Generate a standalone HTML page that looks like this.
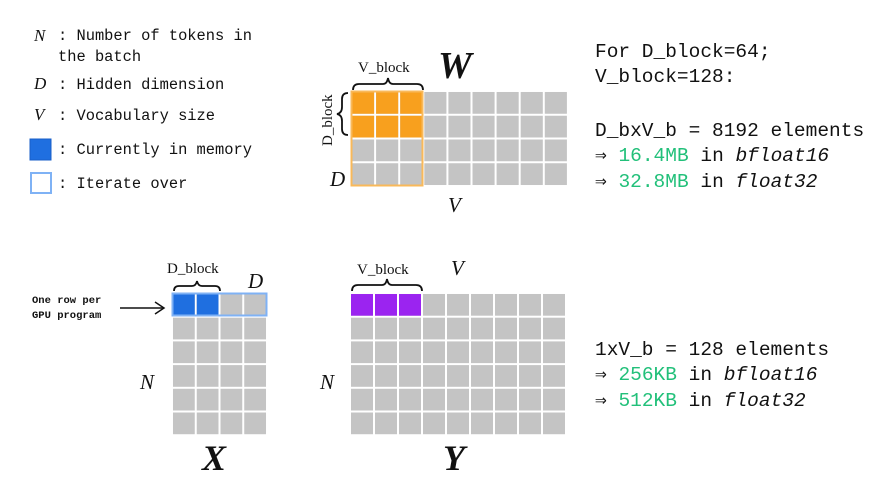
<!DOCTYPE html>
<html><head><meta charset="utf-8"><style>
html,body{margin:0;padding:0;background:#fff}
svg{display:block}
.m{font-family:"Liberation Mono",monospace;fill:#111}
.s{font-family:"Liberation Serif",serif;fill:#111}
.i{font-family:"Liberation Serif",serif;font-style:italic;fill:#111}
.g{fill:#22c07a}
</style></head><body>
<svg width="880" height="495" viewBox="0 0 880 495" xmlns="http://www.w3.org/2000/svg">
<defs>
<pattern id="pw" patternUnits="userSpaceOnUse" x="351" y="91" width="24.1" height="23.75"><rect x="1" y="1" width="22.1" height="21.75" fill="#c4c4c4"/></pattern>
<pattern id="pw2" patternUnits="userSpaceOnUse" x="351" y="91" width="24.1" height="23.75"><rect x="1" y="1" width="22.1" height="21.75" fill="#f8a01e"/></pattern>
<pattern id="px" patternUnits="userSpaceOnUse" x="172" y="293" width="23.75" height="23.7"><rect x="1" y="1" width="21.75" height="21.7" fill="#c4c4c4"/></pattern>
<pattern id="px2" patternUnits="userSpaceOnUse" x="172" y="293" width="23.75" height="23.7"><rect x="1" y="1" width="21.75" height="21.7" fill="#1f6fe0"/></pattern>
<pattern id="py" patternUnits="userSpaceOnUse" x="350" y="293" width="24" height="23.7"><rect x="1" y="1" width="22" height="21.7" fill="#c4c4c4"/></pattern>
<pattern id="py2" patternUnits="userSpaceOnUse" x="350" y="293" width="24" height="23.7"><rect x="1" y="1" width="22" height="21.7" fill="#9b24f0"/></pattern>
</defs>

<!-- legend -->
<text class="i" x="34" y="41" font-size="17">N</text>
<text class="m" x="58" y="40" font-size="15.4">: Number of tokens in</text>
<text class="m" x="58" y="61" font-size="15.4">  the batch</text>
<text class="i" x="34" y="89" font-size="17">D</text>
<text class="m" x="58" y="89" font-size="15.4">: Hidden dimension</text>
<text class="i" x="34" y="120" font-size="17">V</text>
<text class="m" x="58" y="120" font-size="15.4">: Vocabulary size</text>
<rect x="30" y="139" width="21" height="21" fill="#1f6fe0" stroke="#1a5fc8" stroke-width="1"/>
<text class="m" x="58" y="154" font-size="15.4">: Currently in memory</text>
<rect x="31" y="173" width="20" height="20" fill="#fff" stroke="#7fb2f5" stroke-width="2"/>
<text class="m" x="58" y="188" font-size="15.4">: Iterate over</text>

<!-- W -->
<rect x="351" y="91" width="217" height="95" fill="url(#pw)"/>
<rect x="351" y="91" width="72.3" height="47.5" fill="url(#pw2)"/>
<rect x="351.5" y="91.5" width="71" height="94" fill="none" stroke="#f9b95a" stroke-width="2"/>
<text class="s" x="358" y="72" font-size="15">V_block</text>
<path d="M353 90 q0 -6 6 -6 h24 q4 0 5 -6 q1 6 5 6 h24 q6 0 6 6" fill="none" stroke="#111" stroke-width="1.8"/>
<text class="i" x="438" y="78" font-size="38" font-weight="bold">W</text>
<text class="s" font-size="15" transform="translate(332,146) rotate(-90)">D_block</text>
<path d="M348 93 q-6 0 -6 6 v8 q0 6 -5 7 q5 1 5 7 v8 q0 6 6 6" fill="none" stroke="#111" stroke-width="1.8"/>
<text class="i" x="330" y="186" font-size="21">D</text>
<text class="i" x="448" y="212" font-size="21">V</text>

<!-- right text -->
<text class="m" x="595" y="57" font-size="19.5">For D_block=64;</text>
<text class="m" x="595" y="82" font-size="19.5">V_block=128:</text>
<text class="m" x="595" y="136" font-size="19.5">D_bxV_b = 8192 elements</text>
<text class="m" x="595" y="161" font-size="19.5">⇒ <tspan class="g">16.4MB</tspan> in <tspan font-style="italic">bfloat16</tspan></text>
<text class="m" x="595" y="187" font-size="19.5">⇒ <tspan class="g">32.8MB</tspan> in <tspan font-style="italic">float32</tspan></text>

<text class="m" x="595" y="355" font-size="19.5">1xV_b = 128 elements</text>
<text class="m" x="595" y="380" font-size="19.5">⇒ <tspan class="g">256KB</tspan> in <tspan font-style="italic">bfloat16</tspan></text>
<text class="m" x="595" y="406" font-size="19.5">⇒ <tspan class="g">512KB</tspan> in <tspan font-style="italic">float32</tspan></text>

<!-- X -->
<text class="m" x="32" y="303" font-size="10.5" font-weight="bold">One row per</text>
<text class="m" x="32" y="318" font-size="10.5" font-weight="bold">GPU program</text>
<line x1="120" y1="308" x2="163" y2="308" stroke="#111" stroke-width="1.5"/>
<path d="M155 302 L164 308 L155 314" fill="none" stroke="#111" stroke-width="1.5"/>
<rect x="172" y="293" width="95" height="142" fill="url(#px)"/>
<rect x="172" y="293" width="47.5" height="23.7" fill="url(#px2)"/>
<rect x="172.5" y="293.5" width="94" height="22" fill="none" stroke="#7fb2f5" stroke-width="2"/>
<text class="s" x="167" y="273" font-size="15">D_block</text>
<path d="M174 291 q0 -5 5 -5 h13 q4 0 5 -5 q1 5 5 5 h13 q5 0 5 5" fill="none" stroke="#111" stroke-width="1.8"/>
<text class="i" x="248" y="288" font-size="21">D</text>
<text class="i" x="140" y="389" font-size="21">N</text>
<text class="i" x="202" y="470" font-size="36" font-weight="bold">X</text>

<!-- Y -->
<rect x="350" y="293" width="216" height="142" fill="url(#py)"/>
<rect x="350" y="293" width="72" height="23.7" fill="url(#py2)"/>
<text class="s" x="357" y="274" font-size="15">V_block</text>
<path d="M352 291 q0 -6 6 -6 h24 q4 0 5 -6 q1 6 5 6 h24 q6 0 6 6" fill="none" stroke="#111" stroke-width="1.8"/>
<text class="i" x="451" y="275" font-size="21">V</text>
<text class="i" x="320" y="389" font-size="21">N</text>
<text class="i" x="443" y="470" font-size="36" font-weight="bold">Y</text>
</svg>
</body></html>
